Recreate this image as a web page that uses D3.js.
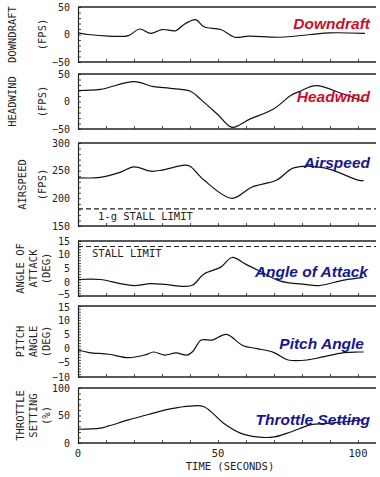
<!DOCTYPE html>
<html><head><meta charset="utf-8">
<script src="https://cdn.jsdelivr.net/npm/d3@7"></script>
<style>body{margin:0;background:#fff}svg{display:block}</style>
</head><body>
<script>
// ---- data (time in seconds) ----
const downdraftT = [0,3.6,11,18,22,26,30,35,37.5,42,45,51,56,61,72,83,90,102.5];
const downdraftV = [3,0,-3,-2,10,2,9,7,17,27,14,9,-5,-3,-5,0,3,2];
const headwindT = [0,8,20,27,33,40,44,50,55,61,70,76,79,85,94,102];
const headwindV = [20,22,36,27,24,19,3,-24,-47,-33,-13,11,18,29,15,0];
const airspeedT = [0,8,15,20,26,30,38,40,45,55,62,71,77,88,100,102];
const airspeedV = [237,238,247,257,249,251,260,258,233,200,220,233,255,255,233,232];
const aoaT = [0,8,15,20,26,31,38,41,45,51,55,60,65,72,81,86,95,102];
const aoaV = [1,1,-0.5,-1.2,-0.5,-0.8,-1.5,-1,3,5.5,9,6.5,4,0.5,-0.8,-1.2,0.8,1.8];
const pitchT = [0,4,11,18,24,27,31,35,39,41,44,48,53,59,64,70,75,82,87,95,100,102];
const pitchV = [-0.5,-1.4,-2,-3.2,-2.2,-1.2,-2.3,-1.5,-2.3,-1,3,3,5,1,0,-1.4,-4,-4,-3,-1.4,-1.2,-1.2];
const throttleT = [0,8,11,18,26,33,40,45,52,58,64,70,76,83,90,102];
const throttleV = [25,27,31,42,53,62,67,66,36,18,11,11,20,33,36,42];
const airspeedStall = 181;
const aoaStall = 13;
const xTicks = [0,50,100];

const panels = [
  {t:downdraftT, v:downdraftV, dom:[-50,50], ticks:[50,0,-50], minor:10, top:7, bot:62,
   title:["DOWNDRAFT","(FPS)"], tx:[12,42], name:"Downdraft", color:"#c8102e", ly:29, lx:370},
  {t:headwindT, v:headwindV, dom:[-50,50], ticks:[50,0,-50], minor:10, top:74, bot:129,
   title:["HEADWIND","(FPS)"], tx:[12,42], name:"Headwind", color:"#c8102e", ly:102, lx:370},
  {t:airspeedT, v:airspeedV, dom:[150,300], ticks:[300,250,200,150], minor:10, top:143, bot:226,
   title:["AIRSPEED","(FPS)"], tx:[22,42], name:"Airspeed", color:"#17178c", ly:168, lx:370,
   stall:airspeedStall, stallText:"1-g STALL LIMIT", stx:98, sty:220},
  {t:aoaT, v:aoaV, dom:[-5,15], ticks:[15,10,5,0,-5], minor:1, top:241, bot:296, botShift:-2,
   title:["ANGLE OF","ATTACK","(DEG)"], tx:[20,33,46], name:"Angle of Attack", color:"#17178c", ly:277, lx:368,
   stall:aoaStall, stallText:"STALL LIMIT", stx:92, sty:257},
  {t:pitchT, v:pitchV, dom:[-10,15], ticks:[15,10,5,0,-5,-10], minor:1, top:306, bot:377, topShift:1.5,
   title:["PITCH","ANGLE","(DEG)"], tx:[20,33,46], name:"Pitch Angle", color:"#17178c", ly:349, lx:364},
  {t:throttleT, v:throttleV, dom:[0,100], ticks:[100,50,0], minor:10, top:388, bot:443,
   title:["THROTTLE","SETTING","(%)"], tx:[20,33,46], name:"Throttle Setting", color:"#17178c", ly:425, lx:370}
];

const W=380, H=477, x0=78, xR=376;
const svg = d3.select("body").append("svg").attr("width",W).attr("height",H);
const x = d3.scaleLinear().domain([0,100]).range([x0,358]);
const mono = "'DejaVu Sans Mono', monospace";
const ink = "#222";

panels.forEach(p=>{
  const y = d3.scaleLinear().domain(p.dom).range([p.bot,p.top]);
  const g = svg.append("g");
  // frame
  g.append("line").attr("x1",x0).attr("x2",xR).attr("y1",p.top).attr("y2",p.top).attr("stroke",ink).attr("stroke-width",1.6);
  g.append("line").attr("x1",x0).attr("x2",xR).attr("y1",p.bot).attr("y2",p.bot).attr("stroke",ink).attr("stroke-width",1.6);
  // left axis with inward minor ticks
  const minorVals = d3.range(p.dom[0], p.dom[1]+0.001, p.minor);
  const ax = d3.axisLeft(y).tickValues(minorVals).tickSize(-3).tickFormat("");
  const ag = g.append("g").attr("transform",`translate(${x0},0)`).call(ax);
  ag.selectAll("path.domain").attr("stroke",ink).attr("stroke-width",1.2);
  ag.selectAll("line").attr("stroke",ink).attr("stroke-width",0.8);
  // tick labels
  const shift = d => (d===p.dom[0] ? (p.botShift||0) : d===p.dom[1] ? (p.topShift||0) : 0);
  g.selectAll("text.tl").data(p.ticks).join("text").attr("class","tl")
    .attr("x",70).attr("y",d=>y(d)+shift(d)).attr("dy","0.35em").attr("text-anchor","end")
    .attr("font-family",mono).attr("font-size",10).attr("fill",ink).text(d=>d<0?"\u2212"+(-d):d);
  // bottom minor ticks
  g.append("g").attr("transform",`translate(0,${p.bot})`)
    .call(d3.axisBottom(x).tickValues(d3.range(0,106,10)).tickSize(-3).tickFormat(""))
    .call(s=>{s.select(".domain").remove(); s.selectAll("line").attr("stroke",ink).attr("stroke-width",0.8);});
  // stall limit
  if(p.stall!==undefined){
    g.append("line").attr("x1",x0).attr("x2",xR).attr("y1",y(p.stall)).attr("y2",y(p.stall))
      .attr("stroke",ink).attr("stroke-width",1.2).attr("stroke-dasharray","5,3");
    g.append("text").attr("x",p.stx).attr("y",p.sty).attr("font-family",mono).attr("font-size",10.5)
      .attr("fill",ink).text(p.stallText);
  }
  // data line
  const data = p.t.map((t,i)=>[t,p.v[i]]);
  g.append("path").datum(data).attr("fill","none").attr("stroke","#111").attr("stroke-width",1.2)
    .attr("d", d3.line().x(d=>x(d[0])).y(d=>y(d[1])).curve(d3.curveCatmullRom.alpha(0.5)));
  // axis titles
  const cy = (p.top+p.bot)/2;
  p.title.forEach((s,i)=>{
    g.append("text").attr("transform",`translate(${p.tx[i]},${cy}) rotate(-90)`)
      .attr("text-anchor","middle").attr("dy","0.35em").attr("font-family",mono).attr("font-size",10.5)
      .attr("fill",ink).text(s);
  });
  // panel label
  g.append("text").attr("x",p.lx).attr("y",p.ly).attr("text-anchor","end")
    .attr("font-family","'Liberation Sans', Arial, sans-serif").attr("font-weight","bold").attr("font-style","italic")
    .attr("font-size",15.5).attr("fill",p.color).text(p.name);
});

// x axis labels
svg.selectAll("text.xl").data(xTicks).join("text").attr("class","xl")
  .attr("x",d=>x(d)).attr("y",457).attr("text-anchor","middle")
  .attr("font-family",mono).attr("font-size",10.5).attr("fill",ink).text(d=>d);
svg.append("text").attr("x",230).attr("y",470).attr("text-anchor","middle")
  .attr("font-family",mono).attr("font-size",10.5).attr("fill",ink).text("TIME (SECONDS)");
</script>
</body></html>
